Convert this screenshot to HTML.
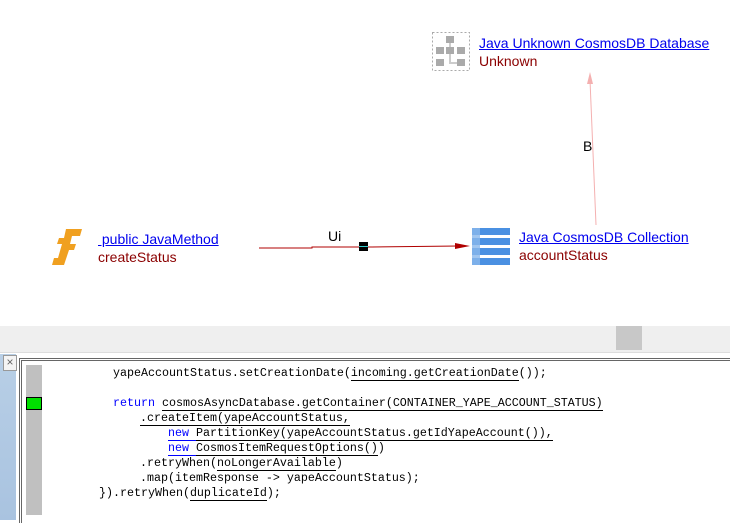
<!DOCTYPE html>
<html><head><style>
body{margin:0;width:730px;height:520px;position:relative;overflow:hidden;background:#fff;font-family:"Liberation Sans",Arial,sans-serif}
.a{position:absolute;white-space:pre}
.lnk{color:#0000ee;text-decoration:underline;font-size:14px}
.sub{color:#8b0000;font-size:14px}
.code{position:absolute;font-family:"Liberation Mono","Courier New",monospace;font-size:11.67px;white-space:pre;color:#000;line-height:15px}
.u{border-bottom:1.5px solid #000}
.k{color:#0000ff}
.ku{color:#0000ff;border-bottom:1.5px solid #0000ff}
</style></head><body>
<svg class="a" style="left:0;top:0" width="730" height="325">
 <!-- function icon -->
 <g fill="#f0a020">
  <polygon points="66,229 82,229 80,236 72,236 70,244 76,244 74,250 69,250 64,265 52,265 54,258 58,258 62,244 57,244 59,238 64,238"/>
 </g>
 <!-- edge -->
 <polyline points="259,248 312,248 312,247 372,247" stroke="#b00000" stroke-width="1" fill="none"/>
 <line x1="372" y1="247" x2="458" y2="246" stroke="#b00000" stroke-width="1"/>
 <polygon points="455,243 470,246 455,249" fill="#b00000"/>
 <rect x="359" y="242" width="9" height="9" fill="#000"/>
 <line x1="359" y1="246.5" x2="368" y2="246.5" stroke="#3cc" stroke-width="1"/>
 <!-- collection icon -->
 <g>
  <rect x="472" y="228" width="38" height="7" fill="#4a90e2"/>
  <rect x="472" y="238" width="38" height="7" fill="#4a90e2"/>
  <rect x="472" y="248" width="38" height="7" fill="#4a90e2"/>
  <rect x="472" y="258" width="38" height="7" fill="#4a90e2"/>
  <rect x="472" y="228" width="8" height="37" fill="#8ab8ec" opacity=".8"/>
 </g>
 <!-- B edge -->
 <line x1="596" y1="225" x2="590" y2="80" stroke="#f4b0b0" stroke-width="1"/>
 <polygon points="587,84 590,72 593,84" fill="#f4b0b0"/>
 <!-- db icon -->
 <rect x="432.5" y="32.5" width="37" height="38" fill="none" stroke="#aaa" stroke-dasharray="2,2"/>
 <g fill="#aaa">
  <rect x="446" y="36" width="8" height="7"/>
  <rect x="436" y="47" width="8" height="7"/><rect x="446" y="47" width="8" height="7"/><rect x="457" y="47" width="8" height="7"/>
  <rect x="436" y="59" width="8" height="7"/><rect x="457" y="59" width="8" height="7"/>
 </g>
 <g stroke="#ccc" stroke-width="2" fill="none"><line x1="450" y1="43" x2="450" y2="47"/><polyline points="450,54 450,63 457,63"/></g>
</svg>
<div class="a lnk" style="left:98px;top:231px">&nbsp;public JavaMethod</div>
<div class="a sub" style="left:98px;top:249px">createStatus</div>
<div class="a" style="left:328px;top:228px;font-size:14px">Ui</div>
<div class="a lnk" style="left:519px;top:229px">Java CosmosDB Collection</div>
<div class="a sub" style="left:519px;top:247px">accountStatus</div>
<div class="a" style="left:583px;top:138px;font-size:14px">B</div>
<div class="a lnk" style="left:479px;top:35px">Java Unknown CosmosDB Database</div>
<div class="a sub" style="left:479px;top:53px">Unknown</div>

<div class="a" style="left:0;top:326px;width:730px;height:26px;background:#efefef"></div>
<div class="a" style="left:616px;top:326px;width:26px;height:24px;background:#c8c8c8"></div>
<div class="a" style="left:0;top:352px;width:730px;height:1px;background:#ddd"></div>
<div class="a" style="left:0;top:354px;width:16px;height:166px;background:linear-gradient(#b8cfe6,#a9c3e0)"></div>
<div class="a" style="left:3px;top:355px;width:12px;height:14px;background:#f4f4f4;border:1px solid #999;font-size:12px;line-height:13px;text-align:center;color:#666">×</div>
<div class="a" style="left:19px;top:358px;width:711px;height:162px;border-top:3px double #666;border-left:3px double #666;background:#fff"></div>
<div class="a" style="left:26px;top:365px;width:16px;height:150px;background:#c0c0c0"></div>
<div class="a" style="left:26px;top:397px;width:14px;height:11px;background:#00e000;border:1px solid #000"></div>

<div class="code" style="left:113px;top:366px">yapeAccountStatus.setCreationDate(<span class="u">incoming.getCreationDate</span>());</div>
<div class="code" style="left:113px;top:396px"><span class="k">return</span> <span class="u">cosmosAsyncDatabase.getContainer(CONTAINER_YAPE_ACCOUNT_STATUS)</span></div>
<div class="code" style="left:140px;top:411px"><span class="u">.createItem(yapeAccountStatus,</span></div>
<div class="code" style="left:168px;top:426px"><span class="ku">new </span><span class="u">PartitionKey(yapeAccountStatus.getIdYapeAccount()),</span></div>
<div class="code" style="left:168px;top:441px"><span class="ku">new </span><span class="u">CosmosItemRequestOptions()</span>)</div>
<div class="code" style="left:140px;top:456px">.retryWhen(<span class="u">noLongerAvailable</span>)</div>
<div class="code" style="left:140px;top:471px">.map(itemResponse -&gt; yapeAccountStatus);</div>
<div class="code" style="left:99px;top:486px">}).retryWhen(<span class="u">duplicateId</span>);</div>
</body></html>
